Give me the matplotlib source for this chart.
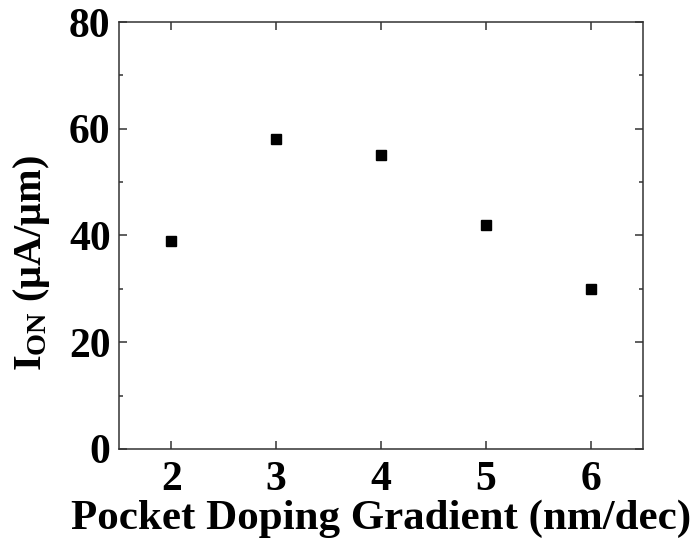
import matplotlib
matplotlib.use("Agg")
import matplotlib.pyplot as plt
from matplotlib.ticker import MultipleLocator

gradient = [2, 3, 4, 5, 6]
ion = [39, 58, 55, 42, 30]
xticks = [2, 3, 4, 5, 6]
yticks = [0, 20, 40, 60, 80]

plt.rcParams['font.family'] = 'Liberation Serif'
plt.rcParams['font.weight'] = 'bold'
plt.rcParams['mathtext.fontset'] = 'custom'
plt.rcParams['mathtext.rm'] = 'Liberation Serif:bold'
plt.rcParams['mathtext.bf'] = 'Liberation Serif:bold'
plt.rcParams['mathtext.it'] = 'Liberation Serif:bold'

fig = plt.figure(figsize=(6.94, 5.46), dpi=100)
ax = fig.add_axes([0.1715, 0.1777, 0.755, 0.782])
ax.plot(gradient, ion, 's', color='black', markersize=7, linestyle='none')
ax.set_xlim(1.5, 6.5)
ax.set_ylim(0, 80)
ax.set_xticks(xticks)
ax.set_yticks(yticks)
ax.yaxis.set_minor_locator(MultipleLocator(10))
ax.tick_params(which='both', direction='in', top=True, right=True, color='#333333', width=1.1)
ax.tick_params(which='major', length=6, labelsize=30, pad=6)
ax.tick_params(axis='x', which='major', pad=9)
ax.tick_params(which='minor', length=3)
for lab in ax.get_xticklabels() + ax.get_yticklabels():
    lab.set_fontweight('bold')
for s in ax.spines.values():
    s.set_color('#333333')
    s.set_linewidth(1.1)
ax.set_xlabel('Pocket Doping Gradient (nm/dec)', fontsize=31, fontweight='bold', labelpad=0)
ax.set_ylabel(r'I$_{\mathrm{ON}}$ ($\mathrm{\mu}$A/$\mathrm{\mu}$m)', fontsize=29, fontweight='bold')
ax.yaxis.set_label_coords(-0.128, 0.436)
fig.savefig('out.png', dpi=100)
